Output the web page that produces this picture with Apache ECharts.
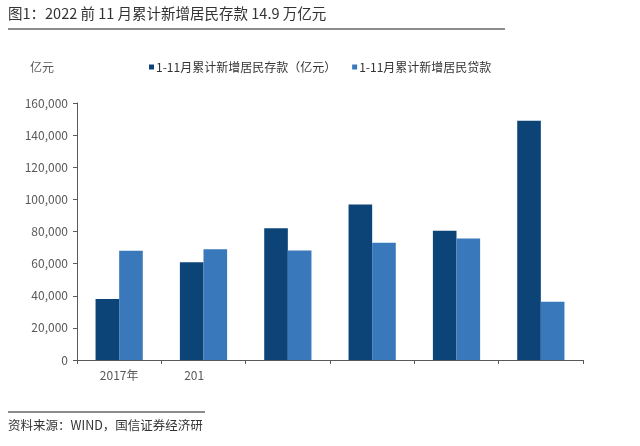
<!DOCTYPE html>
<html><head><meta charset="utf-8">
<script src="https://cdn.jsdelivr.net/npm/echarts@6/dist/echarts.min.js"></script>
<style>html,body{margin:0;padding:0;background:#fff}#c{width:640px;height:446px}</style>
</head><body><div id="c"></div>
<script>
const categories = ['2017年','2018年','2019年','2020年','2021年','2022年'];
const deposits = [38000, 60800, 82000, 96800, 80500, 149000];
const loans = [68000, 69000, 68200, 73000, 75700, 36300];
const seriesNames = ['1-11月累计新增居民存款（亿元）','1-11月累计新增居民贷款'];
const yTicks = [0, 20000, 40000, 60000, 80000, 100000, 120000, 140000, 160000];

const font = '"Noto Sans CJK SC", "Microsoft YaHei", sans-serif';
const chart = echarts.init(document.getElementById('c'), null, {renderer:'canvas'});
chart.setOption({
  animation:false,
  backgroundColor:'#fff',
  textStyle:{fontFamily:font},
  legend:{
    top:56, left:144, itemWidth:5, itemHeight:5, itemGap:16,
    icon:'rect',
    textStyle:{fontSize:12, color:'#333', fontFamily:font, padding:[0,0,0,-3]},
    data:seriesNames
  },
  grid:{left:77, right:57, top:103, bottom:86, containLabel:false},
  xAxis:{
    type:'category', data:categories,
    axisLine:{lineStyle:{color:'#595959', width:1}},
    axisTick:{show:true, alignWithLabel:false, length:4, lineStyle:{color:'#595959'}},
    axisLabel:{color:'#595959', fontSize:12, margin:9, fontFamily:font}
  },
  yAxis:{
    type:'value', min:yTicks[0], max:yTicks[yTicks.length-1], interval:20000,
    splitLine:{show:false},
    axisLine:{show:true, lineStyle:{color:'#595959', width:1}},
    axisTick:{show:true, length:4, inside:false, lineStyle:{color:'#595959'}},
    axisLabel:{color:'#595959', fontSize:12, margin:9, fontFamily:font,
      formatter:v=>v.toLocaleString('en-US')}
  },
  series:[
    {name:seriesNames[0], type:'bar', data:deposits, barGap:'0%', barCategoryGap:'44%',
      itemStyle:{color:'#0c4478'}},
    {name:seriesNames[1], type:'bar', data:loans, barGap:'0%', barCategoryGap:'44%',
      itemStyle:{color:'#3878bb'}}
  ],
  graphic:[
    {type:'text', left:8, top:6, style:{text:'图1：2022 前 11 月累计新增居民存款 14.9 万亿元', font:'14.5px '+font, fill:'#333'}},
    {type:'rect', shape:{x:8, y:28, width:497, height:2}, style:{fill:'#8c8c8c'}},
    {type:'text', left:30, top:61, style:{text:'亿元', font:'12px '+font, fill:'#595959'}},
    {type:'rect', z:100, shape:{x:205, y:366, width:435, height:40}, style:{fill:'#fff'}},
    {type:'rect', shape:{x:8, y:411, width:197, height:2}, style:{fill:'#8c8c8c'}},
    {type:'text', left:8, top:419, style:{text:'资料来源：WIND，国信证券经济研', font:'12.5px '+font, fill:'#333'}}
  ]
});
</script></body></html>
